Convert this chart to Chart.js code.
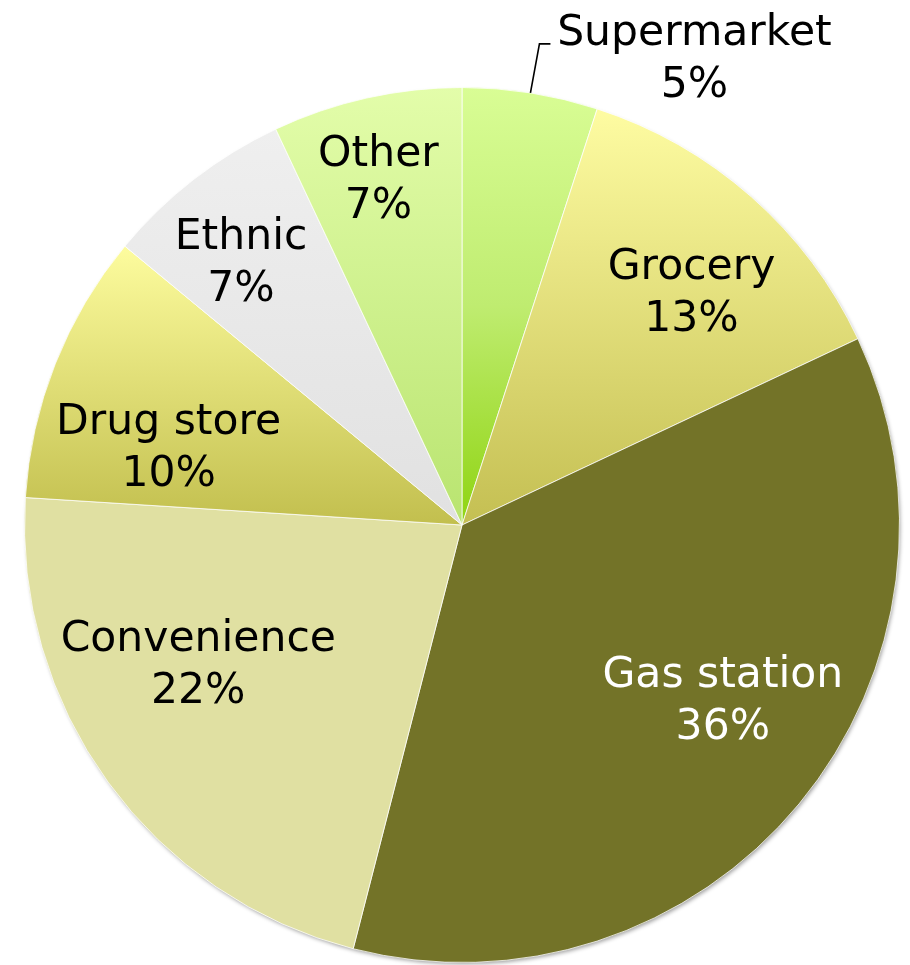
<!DOCTYPE html>
<html>
<head>
<meta charset="utf-8">
<script src="https://cdn.jsdelivr.net/npm/chart.js@4"></script>
<style>
  html, body { margin: 0; padding: 0; background: #fff; }
</style>
</head>
<body>
<canvas id="storeChart" width="910" height="965"></canvas>
<script>
const storeTypes = ['Supermarket', 'Grocery', 'Gas station', 'Convenience', 'Drug store', 'Ethnic', 'Other'];
const shares = [5, 13, 36, 22, 10, 7, 7];

// top -> bottom colour of each slice (one entry = flat fill)
const sliceFills = [
    ['#d9fd95', '#bfec70', '#8fd412'],
    ['#fefca2', '#c4bf52'],
    ['#737328'],
    ['#e0e0a2'],
    ['#fdfc9e', '#c2bf4e'],
    ['#efefef', '#e1e1e1'],
    ['#e3fdaa', '#b9e470']
];
const textColors = ['#000', '#000', '#fff', '#000', '#000', '#000', '#000'];

// label spot: fraction of radius + nudge (degrees) from slice middle
const labelSpots = [
    { outside: true },
    { k: 0.751, turn: 2.9 },
    { k: 0.715, turn: -6.1 },
    { k: 0.679, turn: 8.6 },
    { k: 0.695, turn: -6.35 },
    { k: 0.789, turn: -2.0 },
    { k: 0.818, turn: -0.9 }
];

const total = shares.reduce((a, b) => a + b, 0);

const sliceFill = (context) => {
    const i = context.dataIndex;
    const chart = context.chart;
    const area = chart.chartArea;
    if (i === undefined || !area) return '#ccc';
    const stops = sliceFills[i];
    if (stops.length === 1) return stops[0];

    const cx = (area.left + area.right) / 2;
    const cy = (area.top + area.bottom) / 2;
    const r = Math.min(area.width, area.height) / 2;
    const before = shares.slice(0, i).reduce((a, b) => a + b, 0);
    const start = before / total * Math.PI * 2 - Math.PI / 2;
    const end = start + shares[i] / total * Math.PI * 2;
    const ys = [cy, cy + r * Math.sin(start), cy + r * Math.sin(end)];
    if (start <= -Math.PI / 2 && end >= -Math.PI / 2) ys.push(cy - r);
    if (start <= Math.PI * 1.5 && end >= Math.PI * 1.5) ys.push(cy - r);
    if (start <= Math.PI / 2 && end >= Math.PI / 2) ys.push(cy + r);
    const g = chart.ctx.createLinearGradient(0, Math.min(...ys), 0, Math.max(...ys));
    stops.forEach((c, n) => g.addColorStop(n / (stops.length - 1), c));
    return g;
};

// soft shadow under the whole disc
const pieShadow = {
    id: 'pieShadow',
    beforeDatasetsDraw(chart) {
        const arc = chart.getDatasetMeta(0).data[0];
        if (!arc) return;
        const ctx = chart.ctx;
        ctx.save();
        ctx.shadowColor = 'rgba(0,0,0,0.4)';
        ctx.shadowBlur = 4;
        ctx.shadowOffsetX = 1.5;
        ctx.shadowOffsetY = 2.5;
        ctx.fillStyle = '#fff';
        ctx.beginPath();
        ctx.arc(arc.x, arc.y, arc.outerRadius - 1, 0, Math.PI * 2);
        ctx.fill();
        ctx.restore();
    }
};

const sliceLabels = {
    id: 'sliceLabels',
    afterDatasetsDraw(chart) {
        const ctx = chart.ctx;
        const meta = chart.getDatasetMeta(0);
        const fontSize = 42.5;
        const gap = 52;
        const capMid = fontSize * 0.364;
        ctx.save();
        ctx.font = fontSize + 'px "DejaVu Sans", Verdana, sans-serif';
        ctx.textAlign = 'center';
        ctx.textBaseline = 'alphabetic';
        meta.data.forEach((arc, i) => {
            const spot = labelSpots[i];
            const mid = (arc.startAngle + arc.endAngle) / 2;
            let x, y;
            if (spot.outside) {
                const ax = arc.x + Math.cos(mid) * arc.outerRadius;
                const ay = arc.y + Math.sin(mid) * arc.outerRadius;
                ctx.strokeStyle = '#000';
                ctx.lineWidth = 1.6;
                ctx.beginPath();
                ctx.moveTo(ax, ay);
                ctx.lineTo(ax + 9, ay - 49);
                ctx.lineTo(ax + 20, ay - 49);
                ctx.stroke();
                x = ax + 164;
                y = ay - 37.5;
            } else {
                const a = mid + spot.turn * Math.PI / 180;
                x = arc.x + Math.cos(a) * arc.outerRadius * spot.k;
                y = arc.y + Math.sin(a) * arc.outerRadius * spot.k;
            }
            ctx.fillStyle = textColors[i];
            ctx.fillText(storeTypes[i], x, y - gap / 2 + capMid);
            ctx.fillText(shares[i] + '%', x, y + gap / 2 + capMid);
        });
        ctx.restore();
    }
};

new Chart(document.getElementById('storeChart'), {
    type: 'pie',
    data: {
        labels: storeTypes,
        datasets: [{
            data: shares,
            backgroundColor: sliceFill,
            borderColor: 'rgba(255,255,255,0.75)',
            borderWidth: 1
        }]
    },
    options: {
        responsive: false,
        animation: false,
        layout: { padding: { left: 24, right: 10, top: 87, bottom: 2 } },
        plugins: {
            legend: { display: false },
            tooltip: { enabled: false }
        }
    },
    plugins: [pieShadow, sliceLabels]
});
</script>
</body>
</html>
